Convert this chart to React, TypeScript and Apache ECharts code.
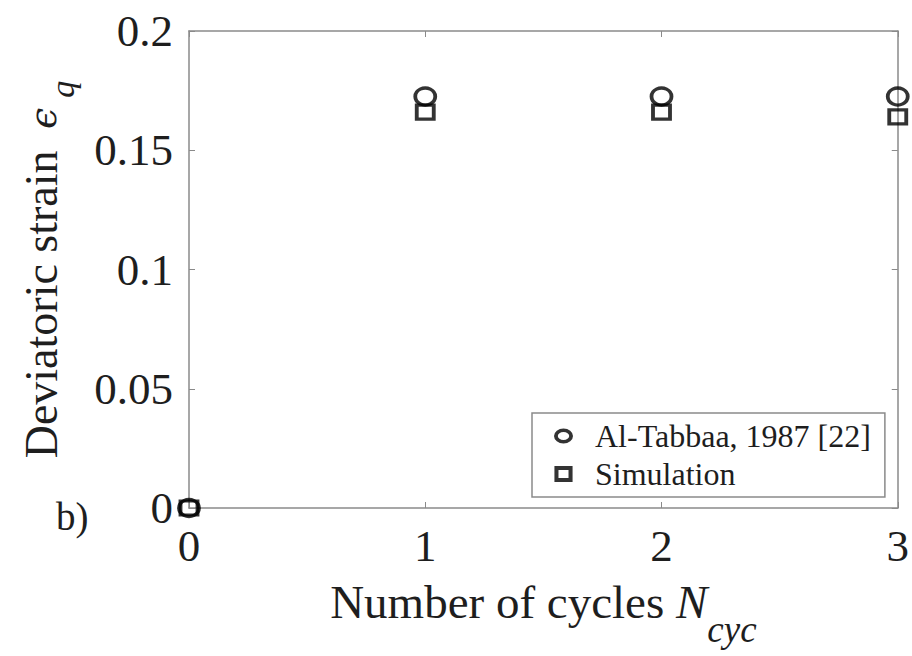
import React, { useEffect, useRef } from "react";
import * as echarts from "echarts";

const cycles = [0, 1, 2, 3];
const alTabbaa = [0, 0.1725, 0.1725, 0.1725];
const simulation = [0, 0.166, 0.166, 0.164];
const seriesNames = ["Al-Tabbaa, 1987 [22]", "Simulation"];

const FONT = "Liberation Serif";
const AXIS_COLOR = "#8a8a8a";
const TEXT = "#1e1e1e";

const RING_ICON =
  "path://M20,8 A10,8 0 1,1 0,8 A10,8 0 1,1 20,8 Z M16,8 A6,4.2 0 1,0 4,8 A6,4.2 0 1,0 16,8 Z";
const SQUARE_ICON = "path://M0,0 L17,0 L17,15 L0,15 Z M3.8,3.8 L3.8,11.2 L13.2,11.2 L13.2,3.8 Z";

export default function App() {
  const ref = useRef<HTMLDivElement>(null);
  useEffect(() => {
    if (!ref.current) return;
    const chart = echarts.init(ref.current, null, { renderer: "svg" });
    const axisLine = { show: true, onZero: false, lineStyle: { color: AXIS_COLOR, width: 1.5 } };
    const axisTick = { show: true, inside: true, length: 6, lineStyle: { color: AXIS_COLOR, width: 1 } };
    const mk = (arr: number[]) => cycles.map((c, i) => [c, arr[i]]);
    const markerStyle = { color: "rgba(255,255,255,0)", borderColor: "#000", borderWidth: 3.5 };
    chart.setOption({
      animation: false,
      backgroundColor: "#ffffff",
      textStyle: { fontFamily: FONT },
      grid: { left: 189, right: 12, top: 31, bottom: 148, show: false },
      legend: {
        orient: "vertical",
        left: 532,
        top: 413,
        padding: [7, 14, 7, 22],
        itemGap: 6,
        itemWidth: 19,
        itemHeight: 16,
        borderColor: "#8a8a8a",
        borderWidth: 1.5,
        textStyle: { fontFamily: FONT, fontSize: 32, color: TEXT, padding: [0, 0, 0, 17] },
        data: [
          { name: seriesNames[0], icon: RING_ICON, itemStyle: { color: "#000", borderWidth: 0 } },
          { name: seriesNames[1], icon: SQUARE_ICON, itemStyle: { color: "#000", borderWidth: 0 } },
        ],
      },
      xAxis: [
        {
          type: "value",
          min: 0,
          max: 3,
          interval: 1,
          axisLine,
          axisTick,
          splitLine: { show: false },
          axisLabel: { fontFamily: FONT, fontSize: 45, color: TEXT, margin: 15 },
          name: "{a|Number of cycles }{n|N}{s|cyc}",
          nameLocation: "middle",
          nameGap: 70,
          nameTextStyle: {
            rich: {
              a: { fontFamily: FONT, fontSize: 47, color: TEXT, verticalAlign: "top" },
              n: { fontFamily: FONT, fontSize: 47, color: TEXT, fontStyle: "italic", verticalAlign: "top" },
              s: { fontFamily: FONT, fontSize: 37, color: TEXT, fontStyle: "italic", verticalAlign: "top", padding: [33, 0, 0, 0] },
            },
          },
        },
        {
          type: "value",
          position: "top",
          min: 0,
          max: 3,
          interval: 1,
          axisLine,
          axisTick,
          axisLabel: { show: false },
          splitLine: { show: false },
        },
      ],
      yAxis: [
        {
          type: "value",
          min: 0,
          max: 0.2,
          interval: 0.05,
          axisLine,
          axisTick,
          splitLine: { show: false },
          axisLabel: { fontFamily: FONT, fontSize: 45, color: TEXT, margin: 16 },
          name: "{a|Deviatoric strain }{e|ϵ}{s|q}",
          nameLocation: "middle",
          nameRotate: 90,
          nameGap: 110,
          nameTextStyle: {
            rich: {
              a: { fontFamily: FONT, fontSize: 46, color: TEXT, verticalAlign: "top" },
              e: { fontFamily: "DejaVu Serif", fontSize: 38, color: TEXT, fontStyle: "italic", verticalAlign: "top", padding: [6, 10, 0, 10] },
              s: { fontFamily: FONT, fontSize: 34, color: TEXT, fontStyle: "italic", verticalAlign: "top", padding: [27, 0, 0, 0] },
            },
          },
        },
        {
          type: "value",
          position: "right",
          min: 0,
          max: 0.2,
          interval: 0.05,
          axisLine,
          axisTick,
          axisLabel: { show: false },
          splitLine: { show: false },
        },
      ],
      graphic: [
        {
          type: "text",
          left: 56,
          top: 497,
          style: { text: "b)", fontFamily: FONT, fontSize: 39, fill: TEXT },
        },
      ],
      series: [
        {
          name: seriesNames[0],
          type: "scatter",
          symbol: "circle",
          symbolSize: [20, 17],
          clip: false,
          data: mk(alTabbaa),
          itemStyle: markerStyle,
        },
        {
          name: seriesNames[1],
          type: "scatter",
          symbol: "rect",
          symbolSize: [17, 14],
          clip: false,
          data: mk(simulation),
          itemStyle: markerStyle,
        },
      ],
    });
    return () => chart.dispose();
  }, []);
  return (
    <div
      ref={ref}
      style={{ position: "fixed", left: 0, top: 0, width: 912, height: 656, background: "#fff" }}
    />
  );
}
